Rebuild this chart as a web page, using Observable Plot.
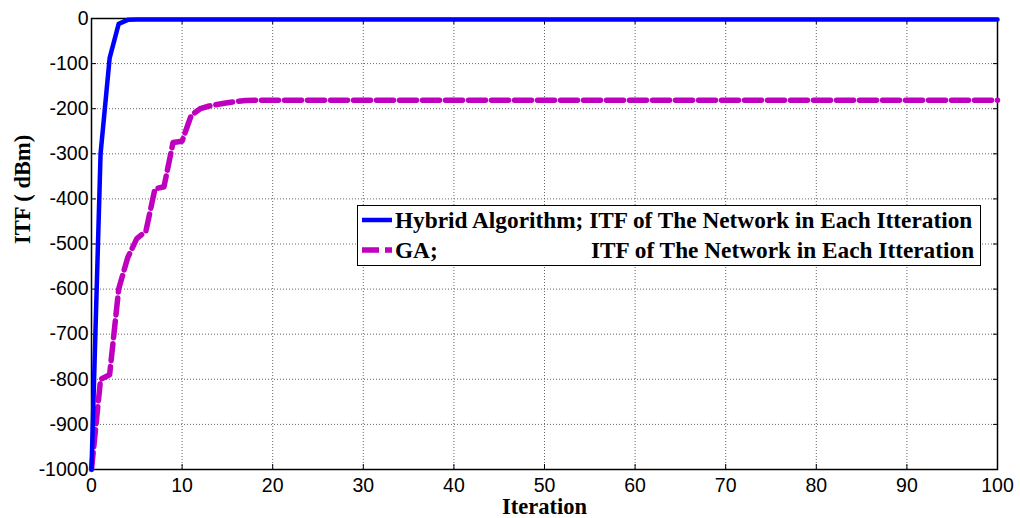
<!DOCTYPE html>
<html>
<head>
<meta charset="utf-8">
<script src="https://cdn.jsdelivr.net/npm/d3@7"></script>
<script src="https://cdn.jsdelivr.net/npm/@observablehq/plot@0.6"></script>
<style>
  html, body { margin: 0; padding: 0; background: #fff; }
  #wrap { position: relative; width: 1020px; height: 518px; }
  #legend {
    position: absolute; left: 357px; top: 205px; width: 622px; height: 59px;
    border: 1.5px solid #000; background: #fff;
    font-family: "Liberation Serif", "Times New Roman", serif; font-weight: bold; font-size: 23.3px;
  }
  .row { position: absolute; left: 0; height: 28px; line-height: 28px; white-space: nowrap; }
  .row svg { position: absolute; left: 4px; top: 8px; }
  .t1 { position: absolute; left: 37px; }
  .t2 { position: absolute; left: 233px; }
</style>
</head>
<body>
<div id="wrap"></div>
<script>
// ---- data ----
const hybridIter = [0, 1, 2, 3, 4, 5, 100];
const hybridITF  = [-1000, -300, -88, -12, -3, -2, -2];

const gaIter = [0, 1, 2, 3, 4, 5, 6, 7, 8, 9, 10, 11, 12, 13, 14, 15, 16, 17, 18, 100];
const gaITF  = [-1000, -800, -790, -600, -530, -488, -472, -378, -373, -275, -272, -215, -200, -194, -190, -187, -184, -182, -181, -181];

const xTicks = [0, 10, 20, 30, 40, 50, 60, 70, 80, 90, 100];
const yTicks = [0, -100, -200, -300, -400, -500, -600, -700, -800, -900, -1000];

const seriesNames = ["Hybrid Algorithm;", "GA;"];
const legendText = "ITF of The Network in Each Itteration";
const xLabel = "Iteration";
const yLabel = "ITF ( dBm)";

const hybrid = hybridIter.map((x, i) => ({x, y: hybridITF[i]}));
const ga = gaIter.map((x, i) => ({x, y: gaITF[i]}));

const serif = "'Liberation Serif', 'Times New Roman', serif";

const chart = Plot.plot({
  width: 1020,
  height: 518,
  marginLeft: 91,
  marginRight: 23,
  marginTop: 18,
  marginBottom: 49,
  style: {fontFamily: "'Liberation Sans', Arial, sans-serif", fontSize: "19.5px", background: "#fff", color: "#000"},
  x: {domain: [0, 100]},
  y: {domain: [-1000, 0]},
  marks: [
    Plot.gridX(xTicks, {stroke: "#666", strokeOpacity: 1, strokeDasharray: "1,2"}),
    Plot.gridY(yTicks, {stroke: "#666", strokeOpacity: 1, strokeDasharray: "1,2"}),
    Plot.axisX(xTicks, {anchor: "bottom", tickSize: 0, tickPadding: 9, tickFormat: d => `${d}`, label: null, fontSize: 19.5}),
    Plot.axisY(yTicks, {anchor: "left", tickSize: 0, tickPadding: 3, tickFormat: d => `${d}`, label: null, fontSize: 19.5}),
    Plot.axisX(xTicks, {anchor: "bottom", tickSize: -5, text: null, label: null, stroke: "#000"}),
    Plot.axisX(xTicks, {anchor: "top", tickSize: -5, text: null, label: null, stroke: "#000"}),
    Plot.axisY(yTicks, {anchor: "left", tickSize: -5, text: null, label: null, stroke: "#000"}),
    Plot.axisY(yTicks, {anchor: "right", tickSize: -5, text: null, label: null, stroke: "#000"}),
    Plot.frame({stroke: "#000", strokeWidth: 1.5}),
    Plot.line(ga, {x: "x", y: "y", stroke: "#bf00bf", strokeWidth: 5.5, strokeDasharray: "17,6", strokeLinejoin: "round"}),
    Plot.line(hybrid, {x: "x", y: "y", stroke: "#0000ff", strokeWidth: 4.5, strokeLinejoin: "round"}),
    Plot.text([xLabel], {frameAnchor: "bottom", lineAnchor: "middle", text: d => d, dy: 37, fontFamily: serif, fontWeight: "bold", fontSize: 22.5, fill: "#000"}),
    Plot.text([yLabel], {frameAnchor: "left", text: d => d, rotate: -90, dx: -69, fontFamily: serif, fontWeight: "bold", fontSize: 22.5, fill: "#000"})
  ]
});

const wrap = document.getElementById("wrap");
wrap.appendChild(chart);

// legend
const legend = document.createElement("div");
legend.id = "legend";
legend.innerHTML = `
  <div class="row" style="top:0px;width:100%">
    <svg width="32" height="12"><line x1="0" y1="6" x2="30" y2="6" stroke="#0000ff" stroke-width="4.5"/></svg>
    <span class="t1">${seriesNames[0]} ${legendText}</span>
  </div>
  <div class="row" style="top:30px;width:100%">
    <svg width="32" height="12"><line x1="0" y1="6" x2="30" y2="6" stroke="#bf00bf" stroke-width="5.5" stroke-dasharray="17,6"/></svg>
    <span class="t1">${seriesNames[1]}</span><span class="t2">${legendText}</span>
  </div>`;
wrap.appendChild(legend);
</script>
</body>
</html>
